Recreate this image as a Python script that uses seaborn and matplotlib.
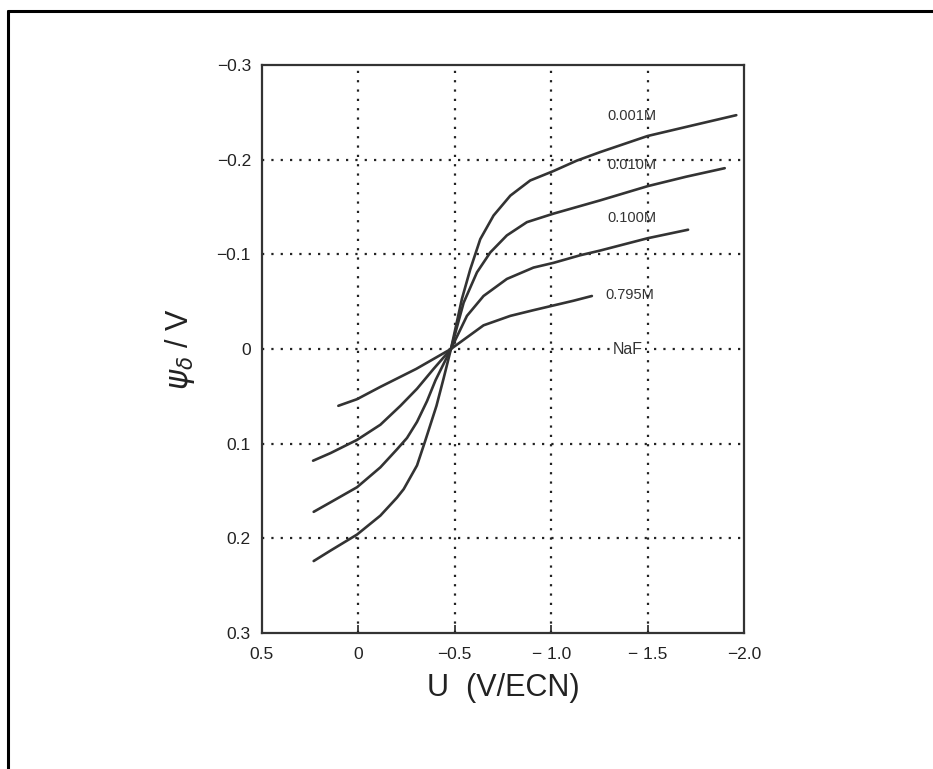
import matplotlib
matplotlib.use("Agg")
import matplotlib.pyplot as plt
from matplotlib.lines import Line2D
import seaborn as sns
import pandas as pd

# ---- data ----
series_names = ["0.001M", "0.010M", "0.100M", "0.795M"]

u_0001 = [0.232, 0.145, 0.007, -0.114, -0.2, -0.235, -0.304, -0.345, -0.405, -0.442, -0.48,
          -0.537, -0.580, -0.632, -0.701, -0.788, -0.891, -1.012, -1.133, -1.254, -1.5, -1.75, -1.96]
psi_0001 = [0.224, 0.213, 0.196, 0.176, 0.157, 0.148, 0.123, 0.098, 0.060, 0.031, 0.0,
            -0.053, -0.084, -0.116, -0.141, -0.162, -0.178, -0.188, -0.199, -0.208, -0.225, -0.237, -0.247]

u_0010 = [0.232, 0.145, 0.007, -0.114, -0.2, -0.252, -0.304, -0.356, -0.40, -0.48,
          -0.546, -0.615, -0.684, -0.770, -0.874, -1.012, -1.133, -1.254, -1.5, -1.7, -1.9]
psi_0010 = [0.172, 0.162, 0.146, 0.125, 0.106, 0.094, 0.077, 0.055, 0.033, 0.0,
            -0.049, -0.081, -0.102, -0.120, -0.134, -0.143, -0.150, -0.157, -0.172, -0.182, -0.191]

u_0100 = [0.235, 0.145, 0.007, -0.114, -0.218, -0.304, -0.39, -0.48,
          -0.563, -0.649, -0.770, -0.908, -1.012, -1.150, -1.254, -1.5, -1.71]
psi_0100 = [0.118, 0.110, 0.096, 0.080, 0.060, 0.042, 0.021, 0.0,
            -0.035, -0.056, -0.074, -0.086, -0.091, -0.099, -0.104, -0.117, -0.126]

u_0795 = [0.104, 0.007, -0.114, -0.3, -0.48, -0.649, -0.788, -0.908, -1.012, -1.116, -1.211]
psi_0795 = [0.060, 0.053, 0.040, 0.021, 0.0, -0.025, -0.035, -0.041, -0.046, -0.051, -0.056]

x_ticks = [0.5, 0.0, -0.5, -1.0, -1.5, -2.0]
x_ticklabels = ["0.5", "0", "\u22120.5", "\u2212 1.0", "\u2212 1.5", "\u22122.0"]
y_ticks = [-0.3, -0.2, -0.1, 0.0, 0.1, 0.2, 0.3]
y_ticklabels = ["\u22120.3", "\u22120.2", "\u22120.1", "0", "0.1", "0.2", "0.3"]

label_x = [-1.29, -1.29, -1.29, -1.28]
label_y = [-0.246, -0.194, -0.138, -0.057]

frames = []
for name, u, p in [("0.001M", u_0001, psi_0001), ("0.010M", u_0010, psi_0010),
                   ("0.100M", u_0100, psi_0100), ("0.795M", u_0795, psi_0795)]:
    frames.append(pd.DataFrame({"U": u, "psi": p, "c": name}))
df = pd.concat(frames, ignore_index=True)

sns.set_theme(style="white")
plt.rcParams["font.family"] = ["Liberation Sans", "DejaVu Sans"]

fig = plt.figure(figsize=(9.33, 7.69), dpi=100)
ax = fig.add_axes([262 / 933, 1 - 633 / 769, 482 / 933, 568 / 769])

sns.lineplot(data=df, x="U", y="psi", hue="c", units="c", estimator=None, sort=False,
             palette=["#333333"] * 4, linewidth=1.9, legend=False, ax=ax)
for ln in ax.get_lines():
    ln.set_solid_joinstyle("round")
    ln.set_solid_capstyle("round")

ax.set_xlim(0.5, -2.0)
ax.set_ylim(0.3, -0.3)
ax.set_xticks(x_ticks)
ax.set_xticklabels(x_ticklabels, fontsize=12.5, color="#222222")
ax.set_yticks(y_ticks)
ax.set_yticklabels(y_ticklabels, fontsize=12.5, color="#222222")

# dotted grid at inner ticks
for xv in x_ticks[1:-1]:
    ax.axvline(xv, color="#222222", linestyle=(0, (1, 3.2)), linewidth=1.6, zorder=0)
for yv in y_ticks[1:-1]:
    ax.axhline(yv, color="#222222", linestyle=(0, (1, 3.2)), linewidth=1.6, zorder=0)

ax.tick_params(axis="x", direction="in", length=6, width=1.2, pad=10, bottom=True, top=False, colors="#222222")
ax.tick_params(axis="y", direction="in", length=0, pad=8, left=True)
for s in ax.spines.values():
    s.set_color("#333333")
    s.set_linewidth(1.6)

for name, lx, ly in zip(series_names, label_x, label_y):
    ax.text(lx, ly, name, fontsize=10.5, color="#333333", ha="left", va="center")
ax.text(-1.32, 0.0, "NaF", fontsize=11.5, color="#333333", ha="left", va="center",
        bbox=dict(facecolor="white", edgecolor="none", pad=1.5))

ax.set_xlabel("U  (V/ECN)", fontsize=22, color="#222222", labelpad=8)
ax.set_ylabel(r"$\psi_\delta$ / V", fontsize=22, color="#222222", labelpad=14)

# outer frame of the scanned page
fig.add_artist(Line2D([8 / 933, 8 / 933], [0, 1 - 11 / 769], transform=fig.transFigure, color="black", linewidth=2.2))
fig.add_artist(Line2D([8 / 933, 1], [1 - 11 / 769, 1 - 11 / 769], transform=fig.transFigure, color="black", linewidth=2.2))

fig.savefig("out.png", dpi=100, facecolor="white")
